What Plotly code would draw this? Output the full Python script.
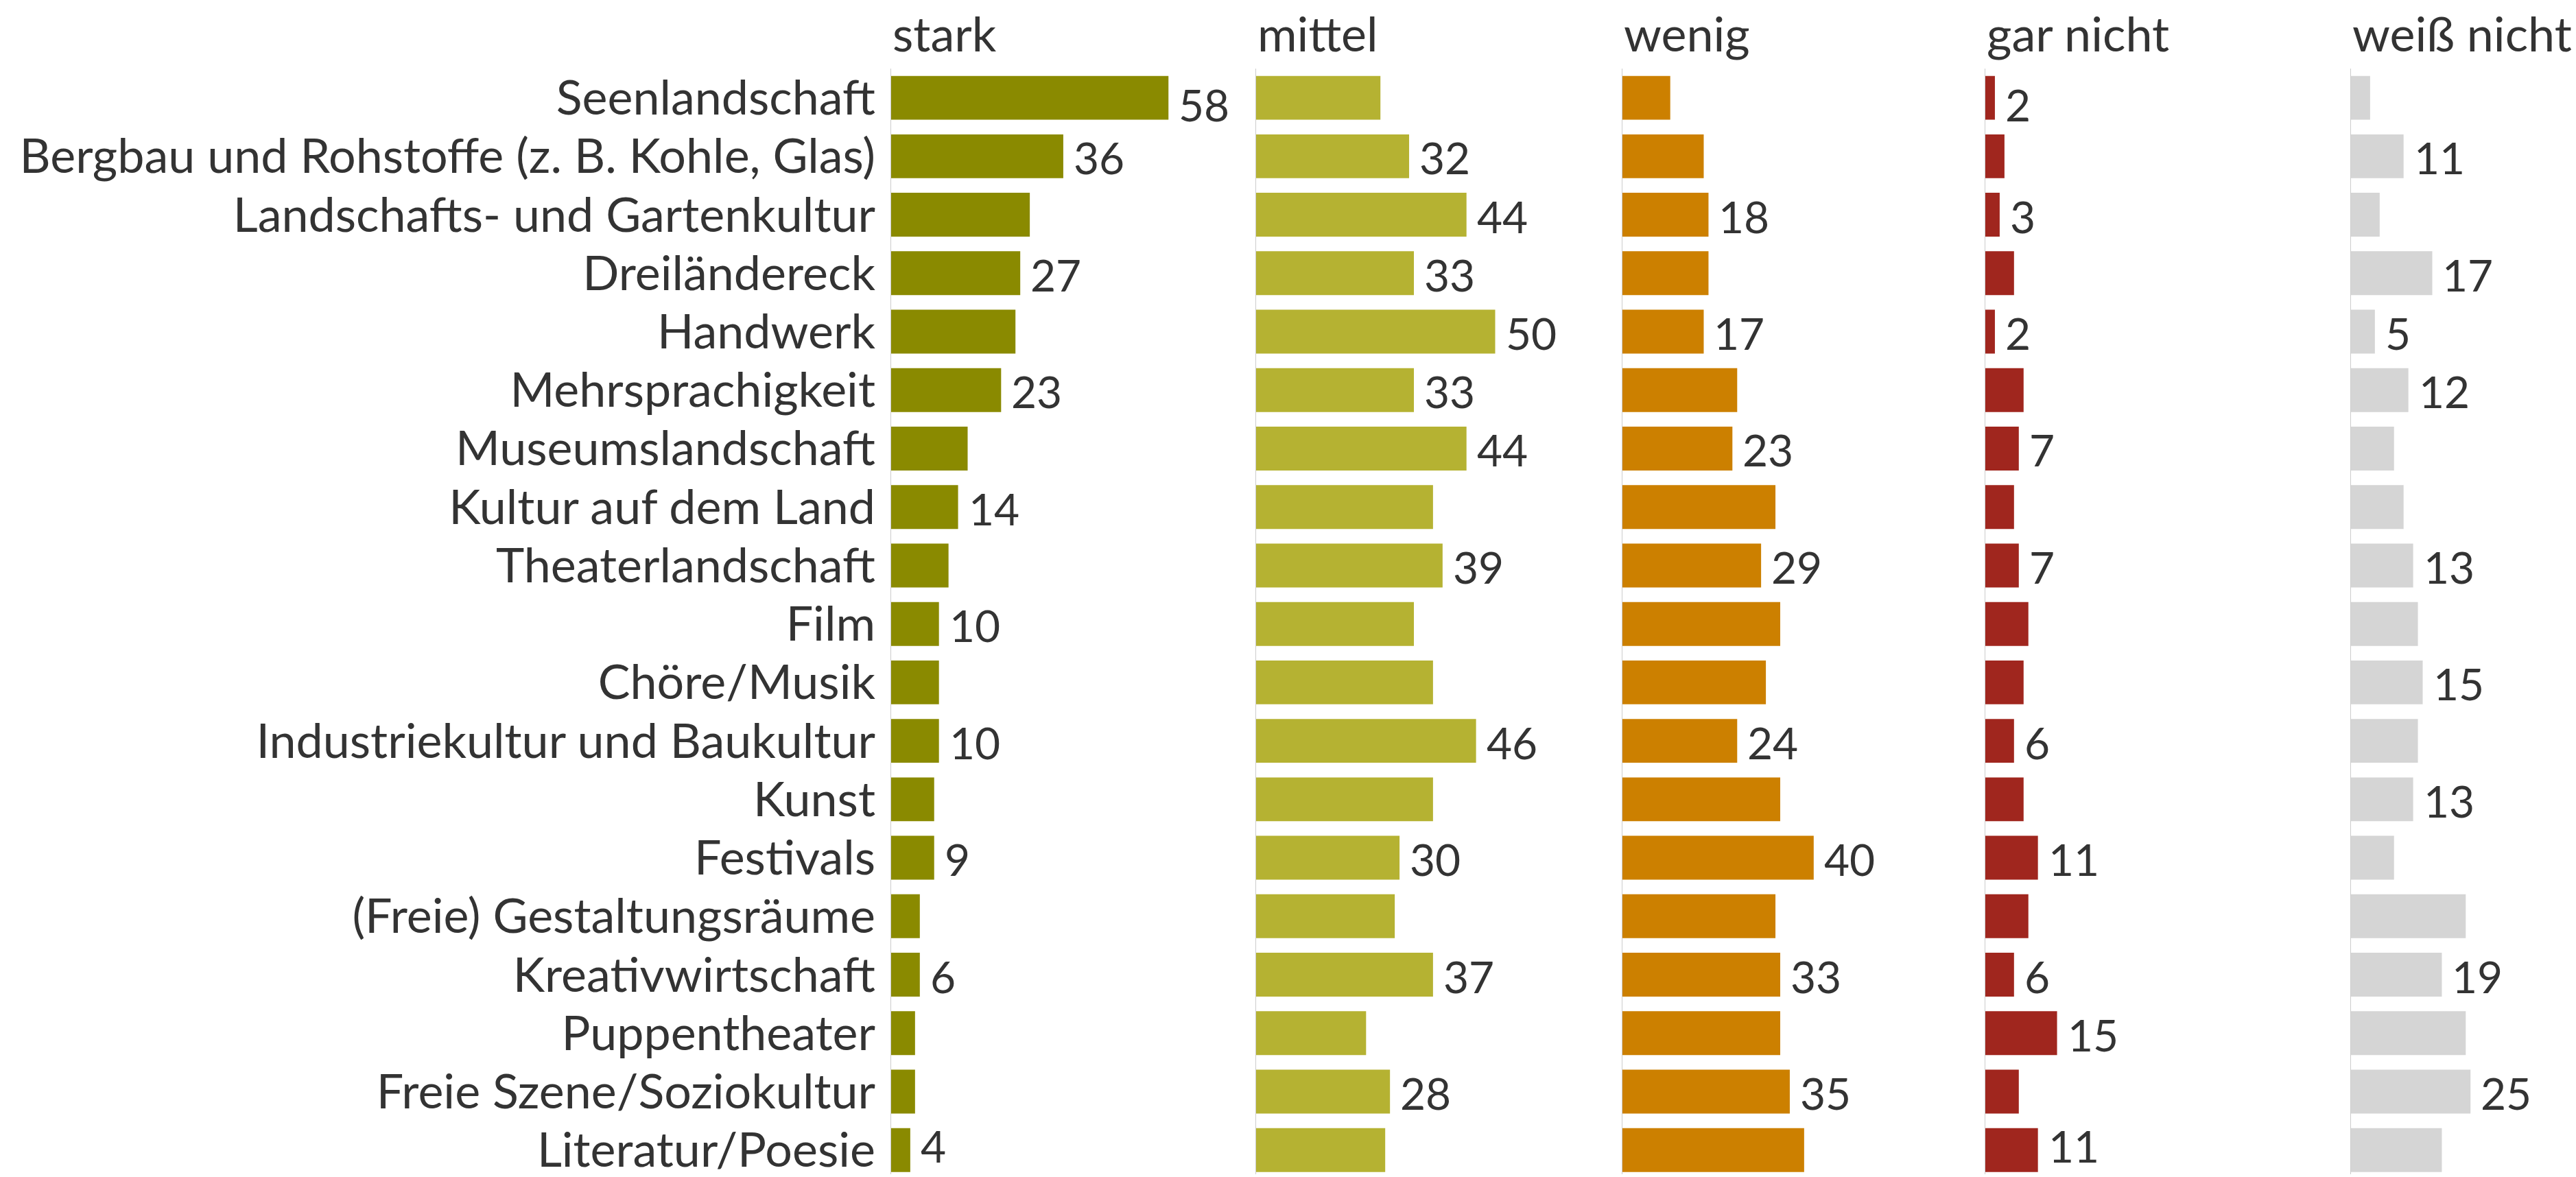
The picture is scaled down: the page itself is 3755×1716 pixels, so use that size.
import plotly.graph_objects as go

# ---------------- data ----------------
categories = [
    "Seenlandschaft",
    "Bergbau und Rohstoffe (z. B. Kohle, Glas)",
    "Landschafts- und Gartenkultur",
    "Dreiländereck",
    "Handwerk",
    "Mehrsprachigkeit",
    "Museumslandschaft",
    "Kultur auf dem Land",
    "Theaterlandschaft",
    "Film",
    "Chöre/Musik",
    "Industriekultur und Baukultur",
    "Kunst",
    "Festivals",
    "(Freie) Gestaltungsräume",
    "Kreativwirtschaft",
    "Puppentheater",
    "Freie Szene/Soziokultur",
    "Literatur/Poesie",
]
series_names = ["stark", "mittel", "wenig", "gar nicht", "weiß nicht"]

stark = [58, 36, 29, 27, 26, 23, 16, 14, 12, 10, 10, 10, 9, 9, 6, 6, 5, 5, 4]
mittel = [26, 32, 44, 33, 50, 33, 44, 37, 39, 33, 37, 46, 37, 30, 29, 37, 23, 28, 27]
wenig = [10, 17, 18, 18, 17, 24, 23, 32, 29, 33, 30, 24, 33, 40, 32, 33, 33, 35, 38]
gar_nicht = [2, 4, 3, 6, 2, 8, 7, 6, 7, 9, 8, 6, 8, 11, 9, 6, 15, 7, 11]
weiss_nicht = [4, 11, 6, 17, 5, 12, 9, 11, 13, 14, 15, 14, 13, 9, 24, 19, 24, 25, 19]

# which bars carry a value label (category indices)
stark_labeled = [0, 1, 3, 5, 7, 9, 11, 13, 15, 18]
mittel_labeled = [1, 2, 3, 4, 5, 6, 8, 11, 13, 15, 17]
wenig_labeled = [2, 4, 6, 8, 11, 13, 15, 17]
gar_nicht_labeled = [0, 2, 4, 6, 8, 11, 13, 15, 16, 18]
weiss_nicht_labeled = [1, 3, 4, 5, 8, 10, 12, 15, 17]

values = [stark, mittel, wenig, gar_nicht, weiss_nicht]
labeled = [stark_labeled, mittel_labeled, wenig_labeled, gar_nicht_labeled, weiss_nicht_labeled]
colors = ["#8a8a00", "#b5b232", "#cc8000", "#a0261e", "#d5d5d5"]

# ---------------- layout constants ----------------
W, H = 3755, 1716
TOP = 100
plot_h = H - TOP
axis_px = [1299, 1831, 2365, 2894, 3427]
panel_w = 500
px_per_unit = 6.97
row_px = 85.44
n_units = plot_h / row_px
FONT = "Lato"
TXT = "#333333"
FS_CAT = 70
FS_VAL = 64
last = len(categories) - 1

fig = go.Figure()
annotations = []
layout_axes = {}

for i, (name, vals, lab, col) in enumerate(zip(series_names, values, labeled, colors)):
    n = i + 1
    xa = "x" if n == 1 else f"x{n}"
    ya = "y" if n == 1 else f"y{n}"
    fig.add_trace(go.Bar(
        x=vals, y=categories, orientation="h",
        marker=dict(color=col, line=dict(width=0)),
        width=0.75, xaxis=xa, yaxis=ya, showlegend=False,
        hovertemplate="%{y}: %{x}<extra>" + name + "</extra>",
    ))
    left = axis_px[i]
    right = min(left + panel_w, W)
    xkey = "xaxis" if n == 1 else f"xaxis{n}"
    ykey = "yaxis" if n == 1 else f"yaxis{n}"
    layout_axes[xkey] = dict(
        domain=[left / W, right / W], range=[0, (right - left) / px_per_unit],
        anchor=ya, showgrid=False, zeroline=False, showticklabels=False,
        showline=False, fixedrange=True,
    )
    layout_axes[ykey] = dict(
        domain=[0, 1], anchor=xa, type="category",
        categoryorder="array", categoryarray=categories,
        range=[-0.5 + n_units, -0.5],
        showgrid=False, zeroline=False,
        showline=True, linecolor="#cccccc", linewidth=1,
        showticklabels=(n == 1), ticks="",
        ticklabelstandoff=8,
        tickfont=dict(family=FONT, size=FS_CAT, color=TXT),
    )
    # header
    annotations.append(dict(
        text=name, xref=f"{xa} domain", x=0, xanchor="left", xshift=0,
        yref="paper", y=1 + (TOP - 48) / plot_h, yanchor="middle",
        showarrow=False, font=dict(family=FONT, size=FS_CAT, color=TXT),
    ))
    # value labels (kept inside the pane at top and bottom rows)
    for k in lab:
        ys = -2
        if k == 0:
            ys = -10
        elif k == last:
            ys = 6
        annotations.append(dict(
            text=str(vals[k]), x=vals[k], y=categories[k], xref=xa, yref=ya,
            xanchor="left", yanchor="middle", xshift=13, yshift=ys,
            showarrow=False, font=dict(family=FONT, size=FS_VAL, color=TXT),
        ))

fig.update_layout(
    width=W, height=H,
    margin=dict(l=0, r=0, t=TOP, b=0, pad=0),
    paper_bgcolor="white", plot_bgcolor="white",
    bargap=0.25,
    annotations=annotations,
    font=dict(family=FONT, size=FS_CAT, color=TXT),
    **layout_axes,
)

fig.write_html("out.html", config={"displayModeBar": False},
               post_script="document.body.style.margin='0';")
